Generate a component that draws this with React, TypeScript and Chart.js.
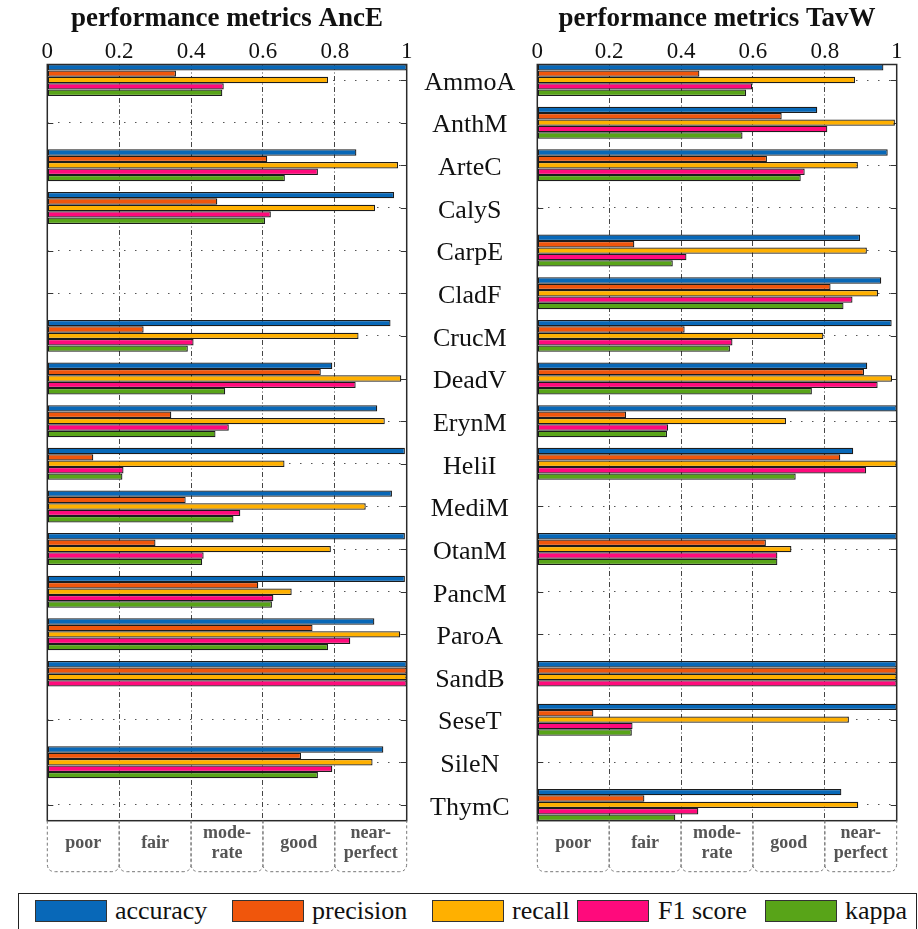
import React, { useEffect, useRef } from "react";
import { Chart, registerables } from "chart.js";
Chart.register(...registerables);

const FONT = "'Liberation Serif', 'Times New Roman', serif";

const categories = ["AmmoA", "AnthM", "ArteC", "CalyS", "CarpE", "CladF", "CrucM", "DeadV", "ErynM", "HeliI", "MediM", "OtanM", "PancM", "ParoA", "SandB", "SeseT", "SileN", "ThymC"];
const metricNames = ["accuracy", "precision", "recall", "F1 score", "kappa"];
const metricColors = ["#0868b8", "#f0560c", "#ffb000", "#ff0a7c", "#58a418"];
const xTickValues = [0, 0.2, 0.4, 0.6, 0.8, 1];
const xTickLabels = ["0", "0.2", "0.4", "0.6", "0.8", "1"];
const agreementBands = [["poor"], ["fair"], ["mode-", "rate"], ["good"], ["near-", "perfect"]];
const panelTitles = ["performance metrics AncE", "performance metrics TavW"];

// AncE panel
const ancAccuracy = [1.0, null, 0.86, 0.965, null, null, 0.955, 0.793, 0.918, 0.995, 0.959, 0.995, 0.995, 0.91, 1.0, null, 0.935, null];
const ancPrecision = [0.358, null, 0.612, 0.473, null, null, 0.268, 0.761, 0.345, 0.128, 0.385, 0.301, 0.587, 0.738, 1.0, null, 0.706, null];
const ancRecall = [0.781, null, 0.976, 0.912, null, null, 0.866, 0.985, 0.939, 0.66, 0.886, 0.789, 0.68, 0.982, 1.0, null, 0.905, null];
const ancF1 = [0.491, null, 0.753, 0.622, null, null, 0.407, 0.858, 0.505, 0.212, 0.537, 0.435, 0.629, 0.843, 1.0, null, 0.793, null];
const ancKappa = [0.487, null, 0.661, 0.606, null, null, 0.391, 0.495, 0.468, 0.209, 0.518, 0.431, 0.625, 0.781, null, null, 0.753, null];

// TavW panel
const tavAccuracy = [0.963, 0.779, 0.975, null, 0.898, 0.957, 0.986, 0.918, 1.0, 0.879, null, 1.0, null, null, 1.0, 1.0, null, 0.846];
const tavPrecision = [0.451, 0.68, 0.639, null, 0.27, 0.816, 0.41, 0.909, 0.247, 0.843, null, 0.636, null, null, 1.0, 0.156, null, 0.298];
const tavRecall = [0.884, 0.995, 0.892, null, 0.917, 0.948, 0.796, 0.987, 0.692, 1.0, null, 0.707, null, null, 1.0, 0.867, null, 0.893];
const tavF1 = [0.598, 0.807, 0.744, null, 0.415, 0.877, 0.543, 0.947, 0.364, 0.915, null, 0.668, null, null, 1.0, 0.265, null, 0.448];
const tavKappa = [0.581, 0.571, 0.733, null, 0.377, 0.852, 0.536, 0.764, 0.361, 0.719, null, 0.668, null, null, null, 0.263, null, 0.384];

// layout geometry (pixels)
const CANVAS_H = 880;
const PLOT_TOP = 64.5;
const PLOT_BOTTOM = 820.7;
const LEFT_CANVAS = { left: 0, width: 430, x0: 47.3, x1: 406.7 };
const RIGHT_CANVAS = { left: 410, width: 508, x0: 537.3, x1: 896.7 };
const TITLE_PAD_TOP = 6;
const TITLE_SIZE = 27;
const BAND_H = 51;

function buildDatasets(series: (number | null)[][]) {
  return series.map((vals, k) => ({
    label: metricNames[k],
    data: vals.map((v, i) => ({ x: v, y: i })),
    backgroundColor: metricColors[k],
    borderColor: "#1c1c1c",
    borderWidth: 1.25,
    borderSkipped: false,
    inflateAmount: 0,
    categoryPercentage: 0.75,
    barPercentage: 1,
  }));
}

const panelDecor = {
  id: "panelDecor",
  beforeDatasetsDraw(chart: any) {
    const { ctx, chartArea: a, scales } = chart;
    ctx.save();
    ctx.strokeStyle = "#333";
    ctx.lineWidth = 1;
    categories.forEach((_, i) => {
      const y = Math.round(scales.y.getPixelForValue(i)) + 0.5;
      ctx.beginPath();
      ctx.moveTo(a.left, y);
      ctx.lineTo(a.left + 6, y);
      ctx.moveTo(a.right - 6, y);
      ctx.lineTo(a.right, y);
      ctx.stroke();
    });
    ctx.restore();
  },
  afterDatasetsDraw(chart: any) {
    const { ctx, chartArea: a } = chart;
    ctx.save();
    ctx.strokeStyle = "#2a2a2a";
    ctx.lineWidth = 1.5;
    ctx.strokeRect(a.left, a.top, a.right - a.left, a.bottom - a.top);
    ctx.restore();
  },
  afterDraw(chart: any) {
    const { ctx, chartArea: a, scales } = chart;
    const top = a.bottom;
    const bottom = a.bottom + BAND_H;
    const r = 8;
    ctx.save();
    for (let i = 0; i < agreementBands.length; i++) {
      const x0 = scales.x.getPixelForValue(xTickValues[i]);
      const x1 = scales.x.getPixelForValue(xTickValues[i + 1]);
      ctx.strokeStyle = "#777";
      ctx.lineWidth = 1;
      ctx.setLineDash([3, 2.5]);
      ctx.beginPath();
      ctx.moveTo(x0, top);
      ctx.lineTo(x0, bottom - r);
      ctx.quadraticCurveTo(x0, bottom, x0 + r, bottom);
      ctx.lineTo(x1 - r, bottom);
      ctx.quadraticCurveTo(x1, bottom, x1, bottom - r);
      ctx.lineTo(x1, top);
      ctx.stroke();
      ctx.setLineDash([]);
      const lines = agreementBands[i];
      ctx.fillStyle = "#555";
      ctx.font = `bold 18px ${FONT}`;
      ctx.textAlign = "center";
      ctx.textBaseline = "middle";
      const cx = (x0 + x1) / 2;
      if (lines.length === 1) {
        ctx.fillText(lines[0], cx, top + 23);
      } else {
        ctx.fillText(lines[0], cx, top + 13);
        ctx.fillText(lines[1], cx, top + 33);
      }
    }
    ctx.restore();
  },
};

function makeChart(canvas: HTMLCanvasElement, title: string, series: (number | null)[][], geom: typeof LEFT_CANVAS, showLabels: boolean) {
  const padLeft = showLabels ? 0 : geom.x0 - geom.left;
  const padRight = geom.left + geom.width - geom.x1;
  const yAxisWidth = showLabels ? geom.x0 - geom.left : 0;
  return new Chart(canvas, {
    type: "bar",
    data: { datasets: buildDatasets(series) as any },
    plugins: [panelDecor],
    options: {
      indexAxis: "y",
      responsive: false,
      animation: false,
      devicePixelRatio: 1,
      layout: { padding: { left: padLeft, right: padRight, top: 0, bottom: CANVAS_H - PLOT_BOTTOM } },
      plugins: {
        legend: { display: false },
        tooltip: { enabled: false },
        title: {
          display: true,
          text: title,
          fullSize: false,
          color: "#111",
          font: { family: FONT, size: TITLE_SIZE, weight: "bold", lineHeight: 1 },
          padding: { top: TITLE_PAD_TOP, bottom: 0 },
        },
      },
      scales: {
        x: {
          type: "linear",
          position: "top",
          min: 0,
          max: 1,
          offset: false,
          afterBuildTicks: (s: any) => {
            s.ticks = xTickValues.map((v) => ({ value: v }));
          },
          afterFit: (s: any) => {
            s.height = PLOT_TOP - (TITLE_PAD_TOP + TITLE_SIZE);
            s.paddingLeft = 0;
            s.paddingRight = 0;
          },
          ticks: {
            color: "#111",
            padding: 1,
            maxRotation: 0,
            autoSkip: false,
            font: { family: FONT, size: 23, lineHeight: 1 },
            callback: (v: any) => xTickLabels[xTickValues.indexOf(Number(v))] ?? "",
          },
          grid: { color: "#444", lineWidth: 1, drawTicks: false, offset: false },
          border: { display: false, dash: [5, 2.5, 1, 2.5] },
        },
        y: {
          type: "linear",
          position: "left",
          reverse: true,
          offset: false,
          min: -0.364,
          max: 17.37,
          afterBuildTicks: (s: any) => {
            s.ticks = categories.map((_, i) => ({ value: i }));
          },
          afterFit: (s: any) => {
            s.width = yAxisWidth;
            s.paddingTop = 0;
            s.paddingBottom = 0;
          },
          ticks: {
            display: showLabels,
            color: "#111",
            crossAlign: "center",
            padding: 22,
            labelOffset: 3,
            autoSkip: false,
            font: { family: FONT, size: 26 },
            callback: (v: any) => categories[Number(v)] ?? "",
          },
          grid: { color: "#555", lineWidth: 1, drawTicks: false, offset: false },
          border: { display: false, dash: [1.5, 9.5] },
        },
      },
    } as any,
  });
}

const legendItems = [
  { sw: 35, tx: 115 },
  { sw: 232, tx: 312 },
  { sw: 432, tx: 512 },
  { sw: 577, tx: 658 },
  { sw: 765, tx: 845 },
];

export default function App() {
  const leftRef = useRef<HTMLCanvasElement>(null);
  const rightRef = useRef<HTMLCanvasElement>(null);
  useEffect(() => {
    const c1 = makeChart(leftRef.current!, panelTitles[0], [ancAccuracy, ancPrecision, ancRecall, ancF1, ancKappa], LEFT_CANVAS, false);
    const c2 = makeChart(rightRef.current!, panelTitles[1], [tavAccuracy, tavPrecision, tavRecall, tavF1, tavKappa], RIGHT_CANVAS, true);
    return () => {
      c1.destroy();
      c2.destroy();
    };
  }, []);
  return (
    <div style={{ position: "fixed", left: 0, top: 0, width: 918, height: 929, background: "#fff", overflow: "hidden" }}>
      <canvas ref={leftRef} width={LEFT_CANVAS.width} height={CANVAS_H} style={{ position: "absolute", left: LEFT_CANVAS.left, top: 0 }} />
      <canvas ref={rightRef} width={RIGHT_CANVAS.width} height={CANVAS_H} style={{ position: "absolute", left: RIGHT_CANVAS.left, top: 0 }} />
      <div style={{ position: "absolute", left: 18, top: 893, width: 899, height: 42, border: "1px solid #222", boxSizing: "border-box", fontFamily: FONT }}>
        {metricNames.map((name, k) => (
          <React.Fragment key={name}>
            <div style={{ position: "absolute", left: legendItems[k].sw - 19, top: 6, width: 72, height: 22, background: metricColors[k], border: "1px solid #333", boxSizing: "border-box" }} />
            <div style={{ position: "absolute", left: legendItems[k].tx - 19, top: 2, height: 30, lineHeight: "30px", fontSize: 26, color: "#111", whiteSpace: "nowrap" }}>{name}</div>
          </React.Fragment>
        ))}
      </div>
    </div>
  );
}
